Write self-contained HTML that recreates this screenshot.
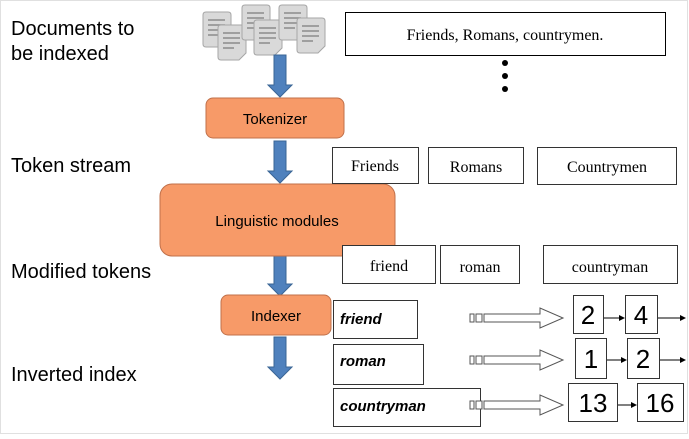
<!DOCTYPE html>
<html><head><style>body{margin:0;background:#fff}svg{display:block}</style></head><body>
<svg width="689" height="439" xmlns="http://www.w3.org/2000/svg">
<defs>
<g id="doc"><path d="M0,3 Q0,0 3,0 H25 Q28,0 28,3 V28 L21,35 H3 Q0,35 0,32 Z" fill="#d9d9d9" stroke="#a6a6a6"/><path d="M5,8H22M5,13H22M5,18H22M5,23H16" stroke="#8c8c8c" stroke-width="1.5"/></g>
<g id="barr"><path d="M-6,0H6V30H12L0,42L-12,30H-6Z" fill="#4f81bd" stroke="#3a6595"/></g>
</defs>
<rect x="0.5" y="0.5" width="687" height="433" fill="none" stroke="#e0e0e0"/>
<g font-family="Liberation Sans, sans-serif" font-size="20" fill="#000">
<text x="11" y="35">Documents to</text><text x="11" y="60">be indexed</text>
<text x="11" y="172">Token stream</text>
<text x="11" y="278">Modified tokens</text>
<text x="11" y="381">Inverted index</text>
</g>
<use href="#doc" x="203" y="12"/><use href="#doc" x="218" y="25"/><use href="#doc" x="242" y="5"/><use href="#doc" x="254" y="20"/><use href="#doc" x="279" y="5"/><use href="#doc" x="297" y="18"/>
<rect x="345.5" y="12.5" width="320" height="43" fill="#fff" stroke="#000"/>
<text x="505" y="40" text-anchor="middle" font-family="Liberation Serif, serif" font-size="16">Friends, Romans, countrymen.</text>
<circle cx="505" cy="63" r="3"/><circle cx="505" cy="76" r="3"/><circle cx="505" cy="89" r="3"/>
<use href="#barr" x="280" y="55"/><use href="#barr" x="280" y="141"/><use href="#barr" x="280" y="254"/><use href="#barr" x="280" y="337"/>
<g fill="#f79a68" stroke="#c0704a">
<rect x="206" y="98" width="138" height="40" rx="7"/>
<rect x="160" y="184" width="235" height="72" rx="12"/>
<rect x="221" y="295" width="110" height="40" rx="7"/>
</g>
<g font-family="Liberation Sans, sans-serif" font-size="15" text-anchor="middle">
<text x="275" y="124">Tokenizer</text><text x="277" y="226">Linguistic modules</text><text x="276" y="321">Indexer</text>
</g>
<g fill="#fff" stroke="#333">
<rect x="332.5" y="147.5" width="86" height="36"/><rect x="428.5" y="147.5" width="95" height="36"/><rect x="537.5" y="147.5" width="139" height="37"/>
<rect x="342.5" y="245.5" width="93" height="38"/><rect x="440.5" y="245.5" width="79" height="38"/><rect x="543.5" y="245.5" width="134" height="38"/>
<rect x="333.5" y="300.5" width="84" height="38"/><rect x="333.5" y="344.5" width="90" height="40"/><rect x="333.5" y="388.5" width="147" height="38"/>
</g>
<g font-family="Liberation Serif, serif" font-size="16" text-anchor="middle">
<text x="375" y="171">Friends</text><text x="476" y="172">Romans</text><text x="607" y="172">Countrymen</text>
<text x="389" y="271">friend</text><text x="480" y="272">roman</text><text x="610" y="272">countryman</text>
</g>
<g font-family="Liberation Sans, sans-serif" font-size="15" font-weight="bold" font-style="italic">
<text x="340" y="324">friend</text><text x="340" y="366">roman</text><text x="340" y="411">countryman</text>
</g>
<g fill="#fff" stroke="#555">
<g transform="translate(0,318)"><rect x="470" y="-4" width="4" height="8"/><rect x="476" y="-4" width="6" height="8"/><path d="M484,-4H540V-10L563,0L540,10V4H484Z"/></g>
<g transform="translate(0,360)"><rect x="470" y="-4" width="4" height="8"/><rect x="476" y="-4" width="6" height="8"/><path d="M484,-4H540V-10L563,0L540,10V4H484Z"/></g>
<g transform="translate(0,405)"><rect x="470" y="-4" width="4" height="8"/><rect x="476" y="-4" width="6" height="8"/><path d="M484,-4H540V-10L563,0L540,10V4H484Z"/></g>
</g>
<g fill="#fff" stroke="#333">
<rect x="573.5" y="295.5" width="30" height="38"/><rect x="625.5" y="295.5" width="32" height="38"/>
<rect x="575.5" y="338.5" width="31" height="40"/><rect x="627.5" y="338.5" width="32" height="40"/>
<rect x="568.5" y="383.5" width="49" height="38"/><rect x="637.5" y="383.5" width="46" height="38"/>
</g>
<g stroke="#000" stroke-width="1">
<path d="M604,318H620M658,318H681M607,360H622M660,360H681M618,405H632"/>
</g>
<g fill="#000"><path d="M625,318l-6,-3v6z"/><path d="M686,318l-6,-3v6z"/><path d="M627,360l-6,-3v6z"/><path d="M686,360l-6,-3v6z"/><path d="M637,405l-6,-3v6z"/></g>
<g font-family="Liberation Sans, sans-serif" font-size="26" text-anchor="middle">
<text x="588" y="324">2</text><text x="641" y="324">4</text><text x="591" y="368">1</text><text x="643" y="368">2</text><text x="593" y="412">13</text><text x="660" y="412">16</text>
</g>
</svg>
</body></html>
